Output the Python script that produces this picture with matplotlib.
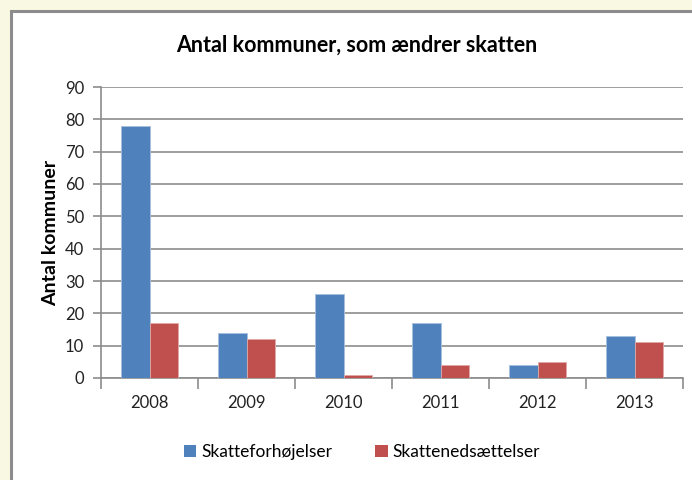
import matplotlib
matplotlib.use("Agg")
import matplotlib.pyplot as plt
import numpy as np
from matplotlib.patches import Rectangle, Patch

years = ["2008", "2009", "2010", "2011", "2012", "2013"]
forhojelser = [78, 14, 26, 17, 4, 13]
nedsaettelser = [17, 12, 1, 4, 5, 11]
yticks = [0, 10, 20, 30, 40, 50, 60, 70, 80, 90]

plt.rcParams['font.family'] = ['Lato', 'DejaVu Sans']

fig = plt.figure(figsize=(6.92, 4.8), dpi=100)
fig.patch.set_facecolor('#f9f8e2')
# inner chart frame
frame = Rectangle((11/692, -0.05), 1.0, 1 - 11/480 + 0.05, transform=fig.transFigure,
                  facecolor='white', edgecolor='#8c8c8c', linewidth=2.2, zorder=-10)
fig.patches.append(frame)

ax = fig.add_axes([101/692, 1 - 378/480, (683 - 101)/692, (378 - 87)/480])
ax.set_zorder(5)
x = np.arange(len(years))
w = 0.29
ax.bar(x - w/2, forhojelser, width=w, color='#4f81bd', edgecolor='#a7c0de', linewidth=0.6, zorder=3)
ax.bar(x + w/2, nedsaettelser, width=w, color='#c0504d', edgecolor='#e0a8a6', linewidth=0.6, zorder=3)

ax.set_xlim(-0.5, len(years) - 0.5)
ax.set_ylim(0, 90)
ax.set_yticks(yticks)
ax.set_yticklabels([str(v) for v in yticks], fontsize=12, color='#222222')
ax.set_xticks(x)
ax.set_xticklabels(years, fontsize=12, color='#222222')
ax.tick_params(axis='x', length=0, pad=12)
ax.set_xticks(np.arange(-0.5, len(years)), minor=True)
ax.tick_params(axis='x', which='minor', length=8, color='#8c8c8c', width=1.2)
ax.tick_params(axis='y', length=6, color='#8c8c8c', width=1.2, pad=6)
ax.grid(axis='y', color='#8c8c8c', linewidth=1.2, zorder=0)
ax.set_axisbelow(True)
for s in ['top', 'right']:
    ax.spines[s].set_visible(False)
for s in ['left', 'bottom']:
    ax.spines[s].set_color('#8c8c8c')
    ax.spines[s].set_linewidth(1.2)
ax.patch.set_alpha(0)

ax.set_ylabel("Antal kommuner", fontsize=14, fontweight='bold', labelpad=4)
fig.text(357/692, 1 - 45/480, "Antal kommuner, som ændrer skatten", ha='center', va='center',
         fontsize=15.5, fontweight='bold')

handles = [Patch(facecolor='#4f81bd'), Patch(facecolor='#c0504d')]
fig.legend(handles, ["Skatteforhøjelser", "Skattenedsættelser"], loc='center',
           bbox_to_anchor=(362/692, 1 - 452/480), ncol=2, frameon=False, fontsize=12.5,
           handlelength=0.7, handleheight=0.7, columnspacing=2.5, handletextpad=0.3)

fig.savefig("out.png", dpi=100, facecolor=fig.get_facecolor())
